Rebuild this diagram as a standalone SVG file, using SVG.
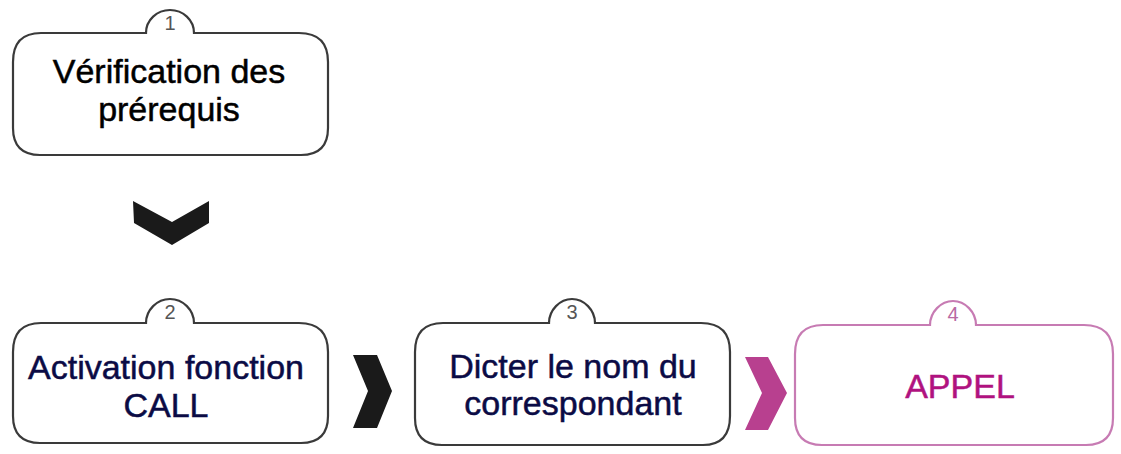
<svg xmlns="http://www.w3.org/2000/svg" width="1121" height="454" viewBox="0 0 1121 454">
<style>
.box{fill:#fff;stroke:#3a3a3a;stroke-width:2.2}
.pbox{fill:#fff;stroke:#c77bb3;stroke-width:2.2}
.t{font-family:"Liberation Sans",Arial,sans-serif;font-size:34px;text-anchor:middle;stroke-width:0.5}
.num{font-family:"Liberation Sans",Arial,sans-serif;font-size:20px;text-anchor:middle;fill:#555}
</style>
<rect width="1121" height="454" fill="#fff"/>
<g id="node1">
<path class="box" d="M41,33 H146 C146,20 157,10 170,10 C183,10 194,20 194,33 H299 Q328,33 328,62 V128 Q328,155 301,155 H40 Q13,155 13,128 V62 Q13,33 41,33 Z"/>
<text class="num" x="170" y="30">1</text>
<text class="t" x="169" y="83" fill="#000" stroke="#000">Vérification des</text>
<text class="t" x="169" y="121" fill="#000" stroke="#000">prérequis</text>
</g>
<g id="node2">
<path class="box" d="M41,323 H146 C146,310 157,299 170,299 C183,299 194,310 194,323 H299 Q328,323 328,352 V416 Q328,443 301,443 H40 Q13,443 13,416 V352 Q13,323 41,323 Z"/>
<text class="num" x="170" y="319">2</text>
<text class="t" x="166" y="379" fill="#0b0b45" stroke="#0b0b45">Activation fonction</text>
<text class="t" x="166" y="417" fill="#0b0b45" stroke="#0b0b45">CALL</text>
</g>
<g id="node3">
<path class="box" d="M443,323 H549 C549,310 560,299 572,299 C584,299 595,310 595,323 H701 Q730,323 730,352 V416 Q730,445 703,445 H442 Q415,445 415,418 V352 Q415,323 443,323 Z"/>
<text class="num" x="572" y="319">3</text>
<text class="t" x="573" y="378" fill="#0b0b45" stroke="#0b0b45">Dicter le nom du</text>
<text class="t" x="573" y="415" fill="#0b0b45" stroke="#0b0b45">correspondant</text>
</g>
<g id="node4">
<path class="pbox" d="M823,325 H930 C930,312 941,301 953,301 C965,301 976,312 976,325 H1084 Q1113,325 1113,354 V418 Q1113,445 1086,445 H822 Q795,445 795,418 V354 Q795,325 823,325 Z"/>
<text class="num" x="953" y="321" style="fill:#b86aa3">4</text>
<text class="t" x="960" y="398" fill="#b0127f" stroke="#b0127f">APPEL</text>
</g>
<g id="connectors">
<polygon points="133,201 172,222 209,201 209,223 172,245 134,223" fill="#1a1a1a"/>
<polygon points="353,355 377,355 392,391 377,428 353,428 368,391" fill="#1a1a1a"/>
<polygon points="745,357 768,357 787,393 768,430 745,430 762,393" fill="#b8408f"/>
</g>
</svg>
